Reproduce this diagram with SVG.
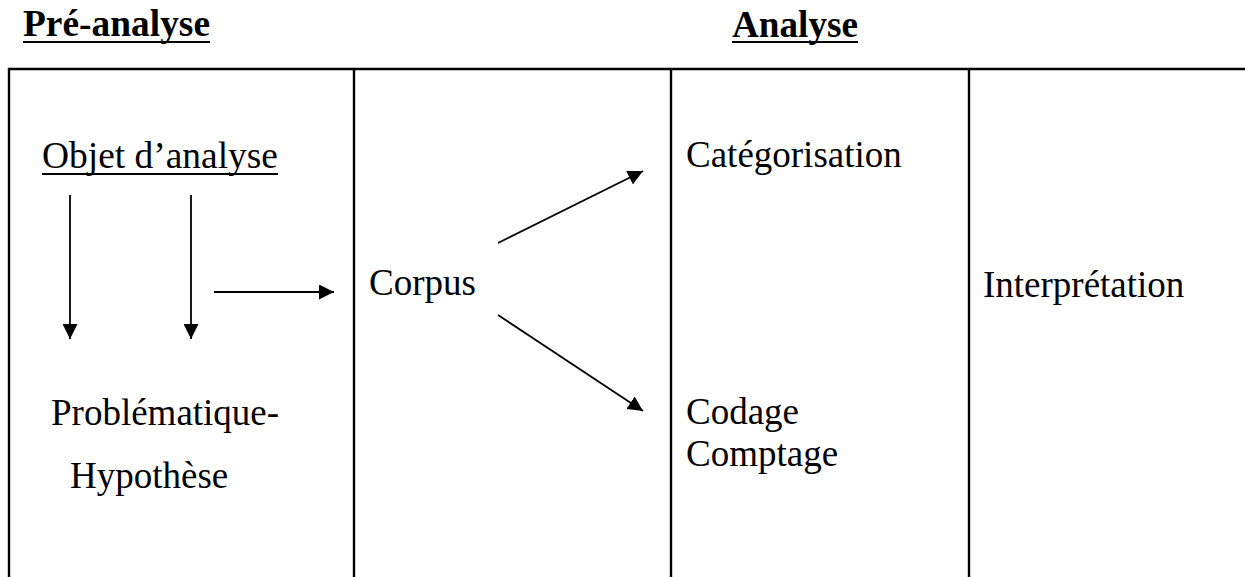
<svg xmlns="http://www.w3.org/2000/svg" width="1245" height="577" viewBox="0 0 1245 577">
<style>
.t{font-family:"Liberation Serif","Times New Roman",serif;font-size:37px;fill:#000}
.h{font-family:"Liberation Serif","Times New Roman",serif;font-size:37px;font-weight:bold;fill:#000}
.frame{stroke:#000;stroke-width:2.4;fill:none}
.ul{stroke:#000;stroke-width:2}
.arr{stroke:#000;stroke-width:1.8;fill:none;marker-end:url(#ah)}
</style>
<defs>
<marker id="ah" markerUnits="userSpaceOnUse" markerWidth="16" markerHeight="15" refX="15" refY="7.5" orient="auto">
<path d="M0,0 L15,7.5 L0,15 z" fill="#000"/>
</marker>
</defs>
<rect width="1245" height="577" fill="#fff"/>
<g id="headings">
<text class="h" x="23" y="36" textLength="187" lengthAdjust="spacingAndGlyphs">Pré-analyse</text>
<line class="ul" x1="23" y1="42" x2="210" y2="42" stroke-width="2.5"/>
<text class="h" x="732" y="37" textLength="126" lengthAdjust="spacingAndGlyphs">Analyse</text>
<line class="ul" x1="732" y1="42" x2="858" y2="42" stroke-width="2.5"/>
</g>
<g id="frame">
<line class="frame" x1="8" y1="69" x2="1245" y2="69"/>
<line class="frame" x1="9" y1="68" x2="9" y2="577"/>
<line class="frame" x1="354" y1="68" x2="354" y2="577"/>
<line class="frame" x1="671" y1="68" x2="671" y2="577"/>
<line class="frame" x1="969" y1="68" x2="969" y2="577"/>
</g>
<g id="objet">
<text class="t" x="42" y="168" textLength="236" lengthAdjust="spacingAndGlyphs">Objet d’analyse</text>
<line class="ul" x1="42" y1="174" x2="278" y2="174" stroke-width="1.8"/>
</g>
<g id="problematique">
<text class="t" x="51" y="425">Problématique-</text>
<text class="t" x="70" y="488">Hypothèse</text>
</g>
<g id="corpus">
<text class="t" x="369" y="295">Corpus</text>
</g>
<g id="categorisation">
<text class="t" x="686" y="167">Catégorisation</text>
</g>
<g id="codage">
<text class="t" x="686" y="424">Codage</text>
<text class="t" x="686" y="466">Comptage</text>
</g>
<g id="interpretation">
<text class="t" x="983" y="297">Interprétation</text>
</g>
<g id="connectors">
<line class="arr" x1="70" y1="195" x2="70" y2="339"/>
<line class="arr" x1="191" y1="195" x2="191" y2="339"/>
<line class="arr" x1="214" y1="292" x2="334" y2="292"/>
<line class="arr" x1="498" y1="243" x2="643" y2="171"/>
<line class="arr" x1="498" y1="315" x2="643" y2="411"/>
</g>
</svg>
